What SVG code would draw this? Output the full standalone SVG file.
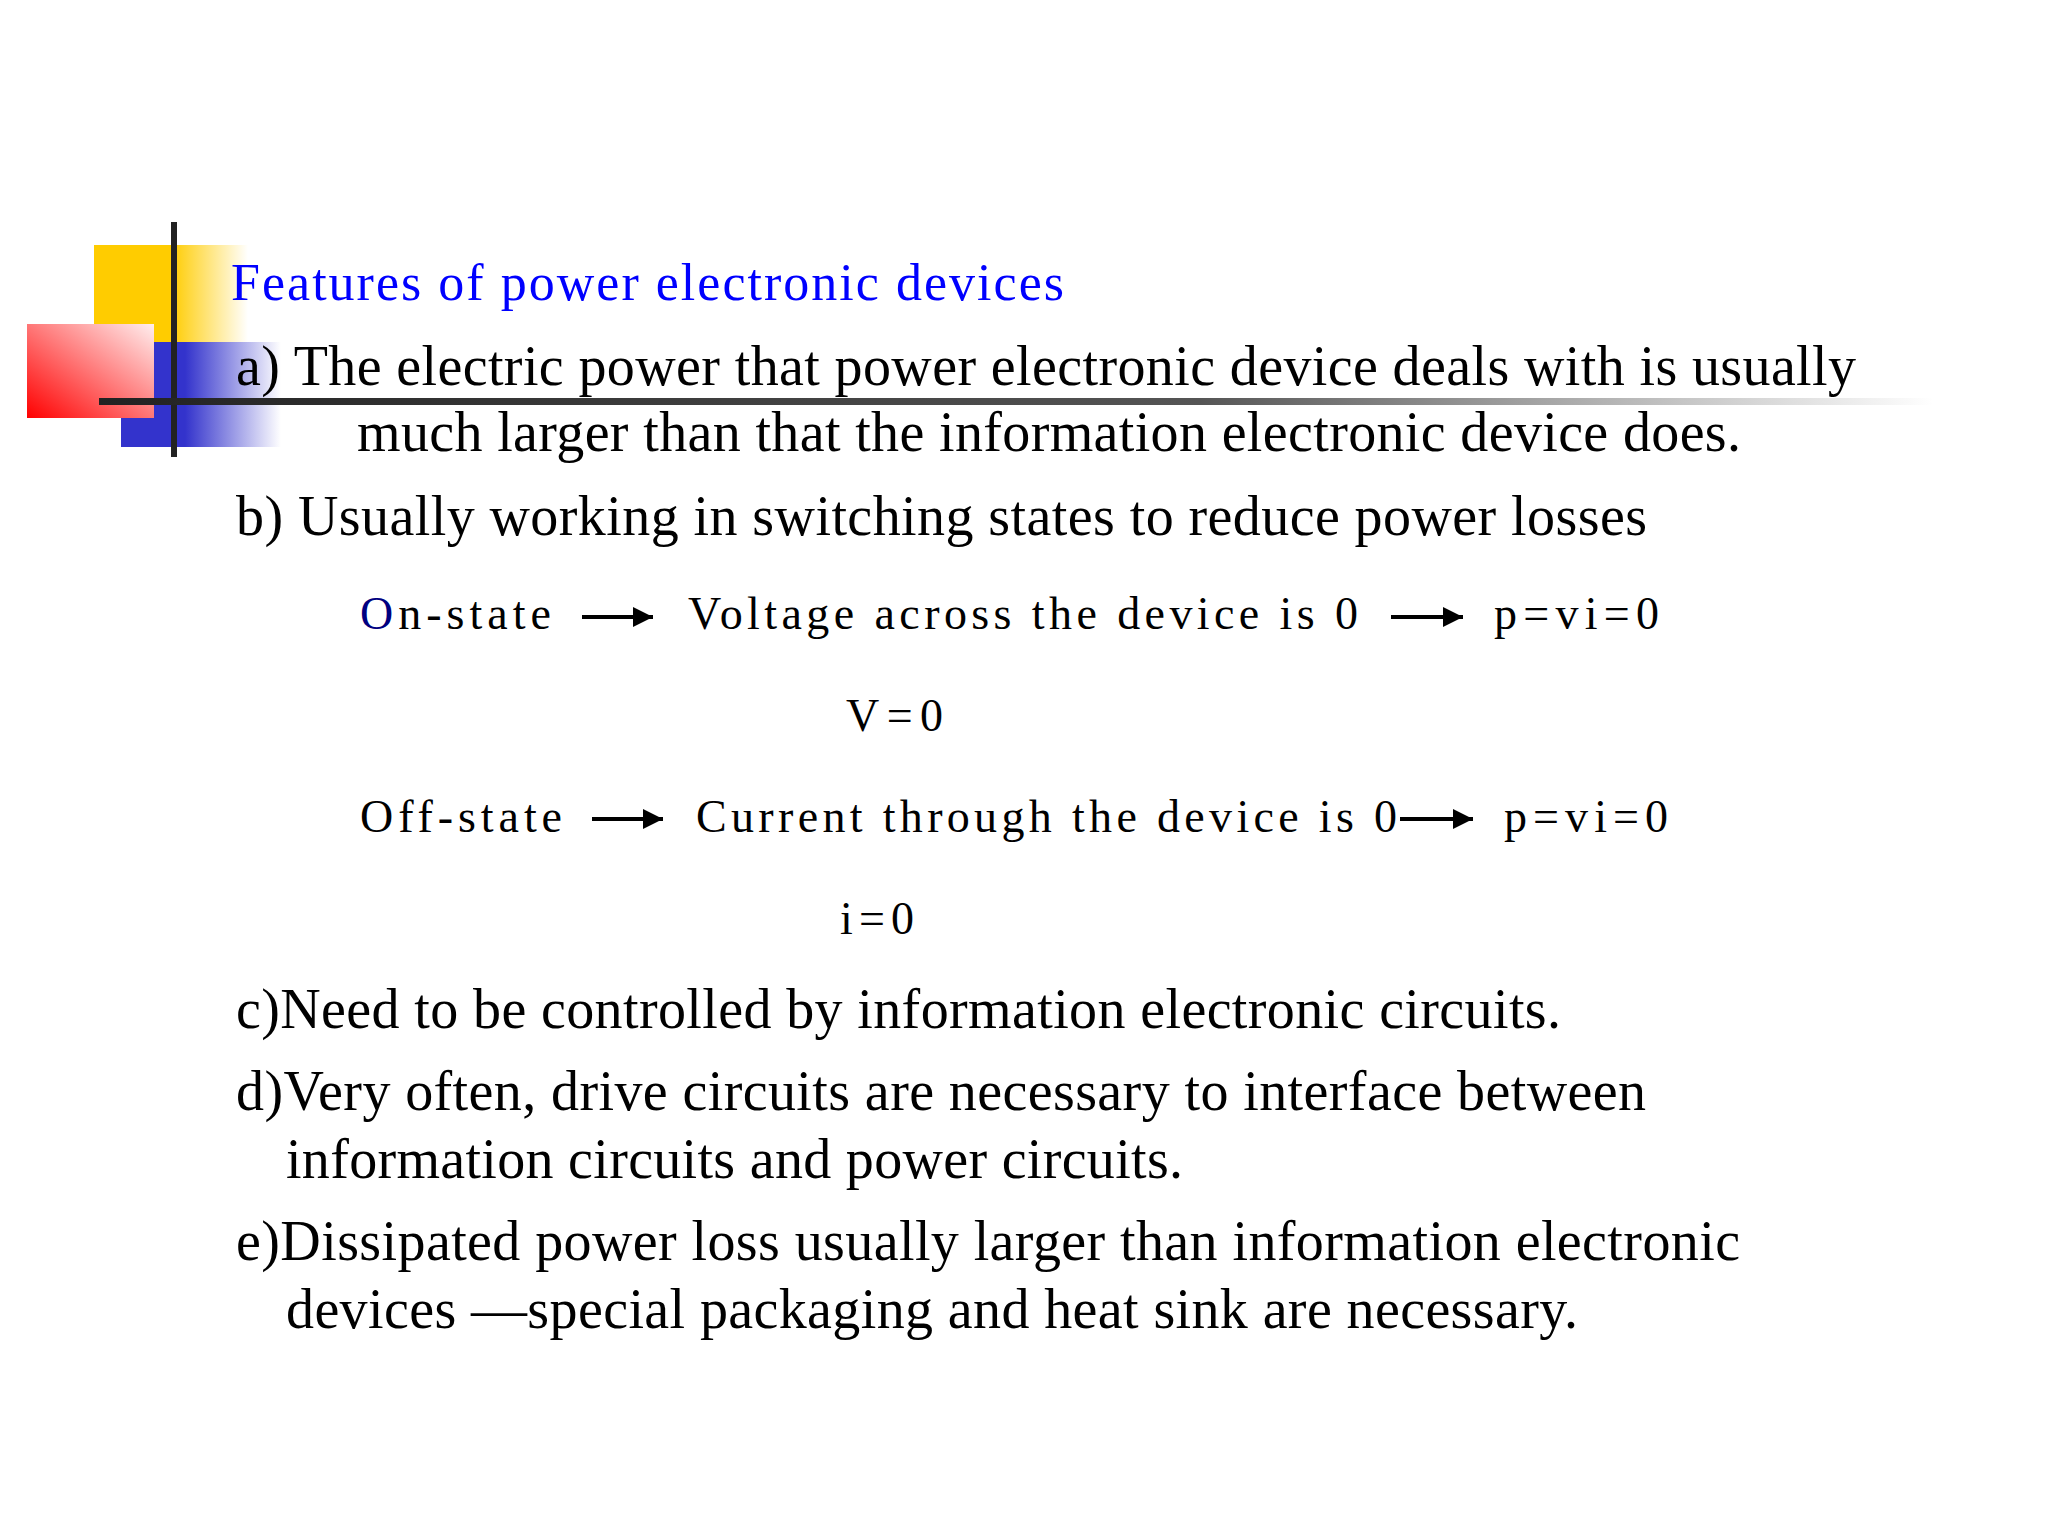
<svg xmlns="http://www.w3.org/2000/svg" width="2048" height="1536" viewBox="0 0 2048 1536">
<defs>
<linearGradient id="gy" x1="0" x2="1" y1="0" y2="0"><stop offset="0.5" stop-color="#ffcc00"/><stop offset="1" stop-color="#ffcc00" stop-opacity="0"/></linearGradient>
<linearGradient id="gb" x1="0" x2="1" y1="0" y2="0"><stop offset="0.4" stop-color="#3333cc"/><stop offset="1" stop-color="#3333cc" stop-opacity="0"/></linearGradient>
<linearGradient id="gr" x1="0" y1="1" x2="1" y2="0"><stop offset="0" stop-color="#ff0000"/><stop offset="1" stop-color="#ffeeee"/></linearGradient>
<linearGradient id="gl" x1="0" x2="1" y1="0" y2="0"><stop offset="0" stop-color="#222"/><stop offset="0.6" stop-color="#555"/><stop offset="1" stop-color="#555" stop-opacity="0"/></linearGradient>
<marker id="ah" viewBox="0 0 10 10" refX="10" refY="5" markerWidth="5" markerHeight="5" orient="auto" markerUnits="strokeWidth"><path d="M0,0 L10,5 L0,10 z" fill="#000"/></marker>
<style>
.t{font-family:"Liberation Serif","Times New Roman",serif;font-size:56px;fill:#000}
.m{font-family:"Liberation Serif","Times New Roman",serif;font-size:46px;fill:#000}
.ttl{font-family:"Liberation Serif","Times New Roman",serif;font-size:52px;fill:#0000ff}
.ar{stroke:#000;stroke-width:4;fill:none;marker-end:url(#ah)}
</style>
</defs>
<rect width="2048" height="1536" fill="#fff"/>
<g id="decor">
<rect x="94" y="245" width="154" height="97" fill="url(#gy)"/>
<rect x="121" y="342" width="160" height="105" fill="url(#gb)"/>
<rect x="27" y="324" width="127" height="94" fill="url(#gr)"/>
<rect x="171" y="222" width="6" height="235" fill="#222"/>
<rect x="99" y="398" width="1834" height="7" fill="url(#gl)"/>
</g>
<g id="title"><text class="ttl" x="231" y="300" textLength="833" lengthAdjust="spacing">Features of power electronic devices</text></g>
<g id="items">
<text class="t" x="236" y="385" textLength="1620" lengthAdjust="spacing">a) The electric power that power electronic device deals with is usually</text>
<text class="t" x="357" y="451" textLength="1384" lengthAdjust="spacing">much larger than that the information electronic device does.</text>
<text class="t" x="236" y="535" textLength="1411" lengthAdjust="spacing">b) Usually working in switching states to reduce power losses</text>
<text class="t" x="236" y="1028" textLength="1325" lengthAdjust="spacing">c)Need to be controlled by information electronic circuits.</text>
<text class="t" x="236" y="1110" textLength="1410" lengthAdjust="spacing">d)Very often, drive circuits are necessary to interface between</text>
<text class="t" x="286" y="1178" textLength="897" lengthAdjust="spacing">information circuits and power circuits.</text>
<text class="t" x="236" y="1260" textLength="1504" lengthAdjust="spacing">e)Dissipated power loss usually larger than information electronic</text>
<text class="t" x="286" y="1328" textLength="1292" lengthAdjust="spacing">devices —special packaging and heat sink are necessary.</text>
</g>
<g id="onstate">
<text class="m" x="360" y="629" textLength="191" lengthAdjust="spacing"><tspan fill="#000080">O</tspan>n-state</text>
<text class="m" x="688" y="629" textLength="670" lengthAdjust="spacing">Voltage across the device is 0</text>
<text class="m" x="1494" y="629" textLength="165" lengthAdjust="spacing">p=vi=0</text>
<text class="m" x="846" y="731" textLength="97" lengthAdjust="spacing">V=0</text>
</g>
<g id="offstate">
<text class="m" x="360" y="832" textLength="202" lengthAdjust="spacing">Off-state</text>
<text class="m" x="696" y="832" textLength="701" lengthAdjust="spacing">Current through the device is 0</text>
<text class="m" x="1504" y="832" textLength="164" lengthAdjust="spacing">p=vi=0</text>
<text class="m" x="840" y="934" textLength="74" lengthAdjust="spacing">i=0</text>
</g>
<g id="connectors">
<line class="ar" x1="582" y1="617" x2="653" y2="617"/>
<line class="ar" x1="1391" y1="617" x2="1463" y2="617"/>
<line class="ar" x1="592" y1="819" x2="663" y2="819"/>
<line class="ar" x1="1400" y1="819" x2="1473" y2="819"/>
</g>
</svg>
